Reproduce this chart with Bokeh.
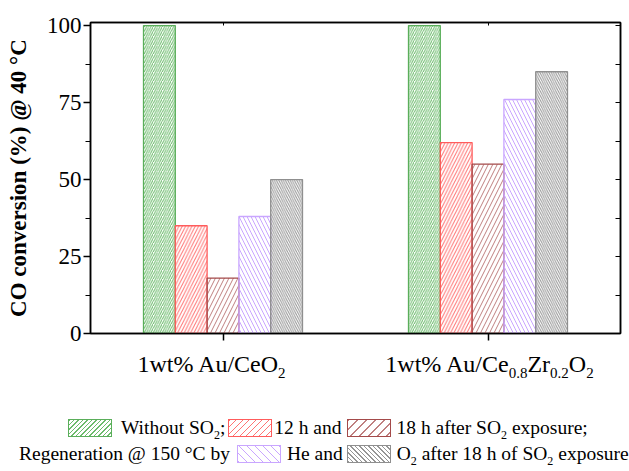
from bokeh.plotting import figure
from bokeh.models import Range1d, FixedTicker, LinearAxis, ColumnDataSource, Div
from bokeh.layouts import column
from bokeh.embed import file_html
from bokeh.resources import INLINE

# ---------------- data ----------------
catalysts = ["Au/CeO2", "Au/Ce0.8Zr0.2O2"]
without_so2 = [100, 100]
after_12h = [35, 62]
after_18h = [18, 55]
regen_he = [38, 76]
regen_o2 = [50, 85]
y_ticks = [0, 25, 50, 75, 100]
y_title = "CO conversion (%) @ 40 \u00b0C"
# category labels: (text, is_subscript)
x_labels = [
    [("1wt% Au/CeO", False), ("2", True)],
    [("1wt% Au/Ce", False), ("0.8", True), ("Zr", False), ("0.2", True),
     ("O", False), ("2", True)],
]
legend_line1 = [
    ("box", 0), ("txt", [("Without SO", False), ("2", True), (";", False)]),
    ("box", 1), ("txt", [("12 h and", False)]),
    ("box", 2), ("txt", [("18 h after SO", False), ("2", True), (" exposure;", False)]),
]
legend_line2 = [
    ("txt", [("Regeneration @ 150 \u00b0C by", False)]),
    ("box", 3), ("txt", [("He and", False)]),
    ("box", 4), ("txt", [("O", False), ("2", True), (" after 18 h of SO", False),
                         ("2", True), (" exposure", False)]),
]

# ---------------- styles ----------------
series = [without_so2, after_12h, after_18h, regen_he, regen_o2]
line_colors = ["#5aae5a", "#ff5c5c", "#a44a4a", "#c9a6ff", "#8f8f8f"]
hatch_colors = ["#6cbb6c", "#ff7474", "#bf8080", "#c9a6ff", "#959595"]
hatch_patterns = ["/", "/", "/", "\\", "\\"]
hatch_scales = [4.5, 6.5, 9, 8, 4.5]
hatch_weights = [1, 1, 1, 1, 1]
BAR_W = 0.12
FONT = "Liberation Serif"

FIG_W, FIG_H = 629, 471
B_L, B_R, B_T = 90, 9, 22
FRAME_BOTTOM = 333
B_B = 24
P_H = FRAME_BOTTOM + B_B
DIV_H = FIG_H - P_H
Y_MAX = 101
N_CAT = len(catalysts)
frame_w = FIG_W - B_L - B_R
ppx = frame_w / N_CAT

centers = [i + 0.5 for i in range(N_CAT)]

p = figure(x_range=Range1d(0, N_CAT), y_range=Range1d(0, Y_MAX),
           width=FIG_W, height=P_H, output_backend="svg", toolbar_location=None,
           min_border_left=B_L, min_border_right=B_R, min_border_top=B_T,
           min_border_bottom=B_B, x_axis_location=None, y_axis_location=None)
p.xgrid.visible = False
p.ygrid.visible = False
p.outline_line_color = "black"
p.outline_line_width = 1.5
p.background_fill_color = "white"
p.border_fill_color = "white"

n = len(series)
for i, vals in enumerate(series):
    off = (i - (n - 1) / 2) * BAR_W
    src = ColumnDataSource(dict(x=[c + off for c in centers], top=vals))
    p.vbar(x="x", top="top", width=BAR_W, source=src,
           fill_color="white", fill_alpha=0, line_color=line_colors[i], line_width=1.3,
           hatch_pattern=hatch_patterns[i], hatch_color=hatch_colors[i],
           hatch_scale=hatch_scales[i], hatch_weight=hatch_weights[i])

minor = [(a + b) / 2 for a, b in zip(y_ticks[:-1], y_ticks[1:])]
yticker = FixedTicker(ticks=y_ticks, minor_ticks=minor)
xticker = FixedTicker(ticks=centers, minor_ticks=[])
blank_y = {t: "" for t in y_ticks}
blank_x = {c: "" for c in centers}

yl = LinearAxis(ticker=yticker, axis_label=y_title)
yl.axis_line_width = 1.5
yl.major_tick_line_width = 1.5
yl.minor_tick_line_width = 1.2
yl.major_tick_out = 7
yl.major_tick_in = 0
yl.minor_tick_out = 5
yl.minor_tick_in = 0
yl.major_label_text_font = FONT
yl.major_label_text_font_size = "23px"
yl.major_label_text_color = "black"
yl.major_label_standoff = 2
yl.axis_label_text_font = FONT
yl.axis_label_text_font_style = "bold"
yl.axis_label_text_font_size = "23px"
yl.axis_label_text_color = "black"
yl.axis_label_standoff = 13
p.add_layout(yl, "left")

yr = LinearAxis(ticker=yticker, major_label_overrides=blank_y)
yr.axis_line_width = 1.5
yr.major_tick_in = 5
yr.major_tick_out = 0
yr.minor_tick_in = 5
yr.minor_tick_out = 0
yr.major_label_text_font_size = "10px"
yr.major_label_standoff = 0
p.add_layout(yr, "right")

xb = LinearAxis(ticker=xticker, major_label_overrides=blank_x)
xb.axis_line_width = 1.5
xb.major_tick_line_width = 1.5
xb.major_tick_out = 7
xb.major_tick_in = 0
xb.major_label_text_font_size = "10px"
xb.major_label_standoff = 0
p.add_layout(xb, "below")

xt = LinearAxis(ticker=xticker, major_label_overrides=blank_x)
xt.axis_line_width = 1.5
xt.major_tick_out = 0
xt.major_tick_in = 3
xt.major_label_text_font_size = "10px"
xt.major_label_standoff = 0
p.add_layout(xt, "above")


# ---------------- HTML part below the plot (labels + legend) ----------------
def css_hatch(k):
    ang = 135 if hatch_patterns[k] == "/" else 45
    sp = hatch_scales[k] / 2 ** 0.5
    c = hatch_colors[k]
    return (f"background:repeating-linear-gradient({ang}deg,{c} 0px,{c} {hatch_weights[k]}px,"
            f"transparent {hatch_weights[k]}px,transparent {sp:.2f}px);")


def rich(segs, sub_size, sub_drop):
    out = ""
    for t, is_sub in segs:
        t = t.replace("&", "&amp;").replace("<", "&lt;")
        if is_sub:
            out += (f'<span style="font-size:{sub_size}px;vertical-align:-{sub_drop}px;'
                    f'line-height:1">{t}</span>')
        else:
            out += t
    return out


ASC = 0.8375   # baseline position within a line-height:1 box (Liberation Serif)
html = (f'<div style="position:relative;width:{FIG_W}px;height:{DIV_H}px;'
        f'overflow:visible;font-family:\'{FONT}\';color:black;">')

LBL_SIZE, LBL_SUB, LBL_BASE = 24, 15, 372
label_shift = [-11, 2]
for ci, segs in enumerate(x_labels):
    cx = B_L + centers[ci] * ppx + label_shift[ci]
    top = LBL_BASE - ASC * LBL_SIZE - P_H
    html += (f'<div style="position:absolute;left:{cx:.1f}px;top:{top:.1f}px;'
             f'transform:translateX(-50%);white-space:nowrap;font-size:{LBL_SIZE}px;'
             f'line-height:1">{rich(segs, LBL_SUB, 6)}</div>')

LEG_SIZE, LEG_SUB = 19.5, 12
BOX_W, BOX_H = 44, 18
lines = [
    (legend_line1, 68, 434, [0, 9, 3, 2, 5, 6]),
    (legend_line2, 19, 460, [0, 7, 6, 4, 6]),
]
for items, x0, base, gaps in lines:
    top = base - ASC * LEG_SIZE - P_H
    html += (f'<div style="position:absolute;left:{x0}px;top:{top:.1f}px;'
             f'white-space:nowrap;font-size:{LEG_SIZE}px;line-height:1">')
    for (kind, content), g in zip(items, gaps):
        if kind == "box":
            k = content
            html += (f'<span style="display:inline-block;box-sizing:border-box;'
                     f'width:{BOX_W}px;height:{BOX_H}px;margin-left:{g}px;'
                     f'vertical-align:-3px;border:1.3px solid {line_colors[k]};'
                     f'{css_hatch(k)}"></span>')
        else:
            html += (f'<span style="margin-left:{g}px">'
                     f'{rich(content, LEG_SUB, 5)}</span>')
    html += '</div>'
html += '</div>'

div = Div(text=html, width=FIG_W, height=DIV_H, margin=0)

layout = column(p, div, spacing=0)
open("out.html", "w").write(file_html(layout, INLINE))
